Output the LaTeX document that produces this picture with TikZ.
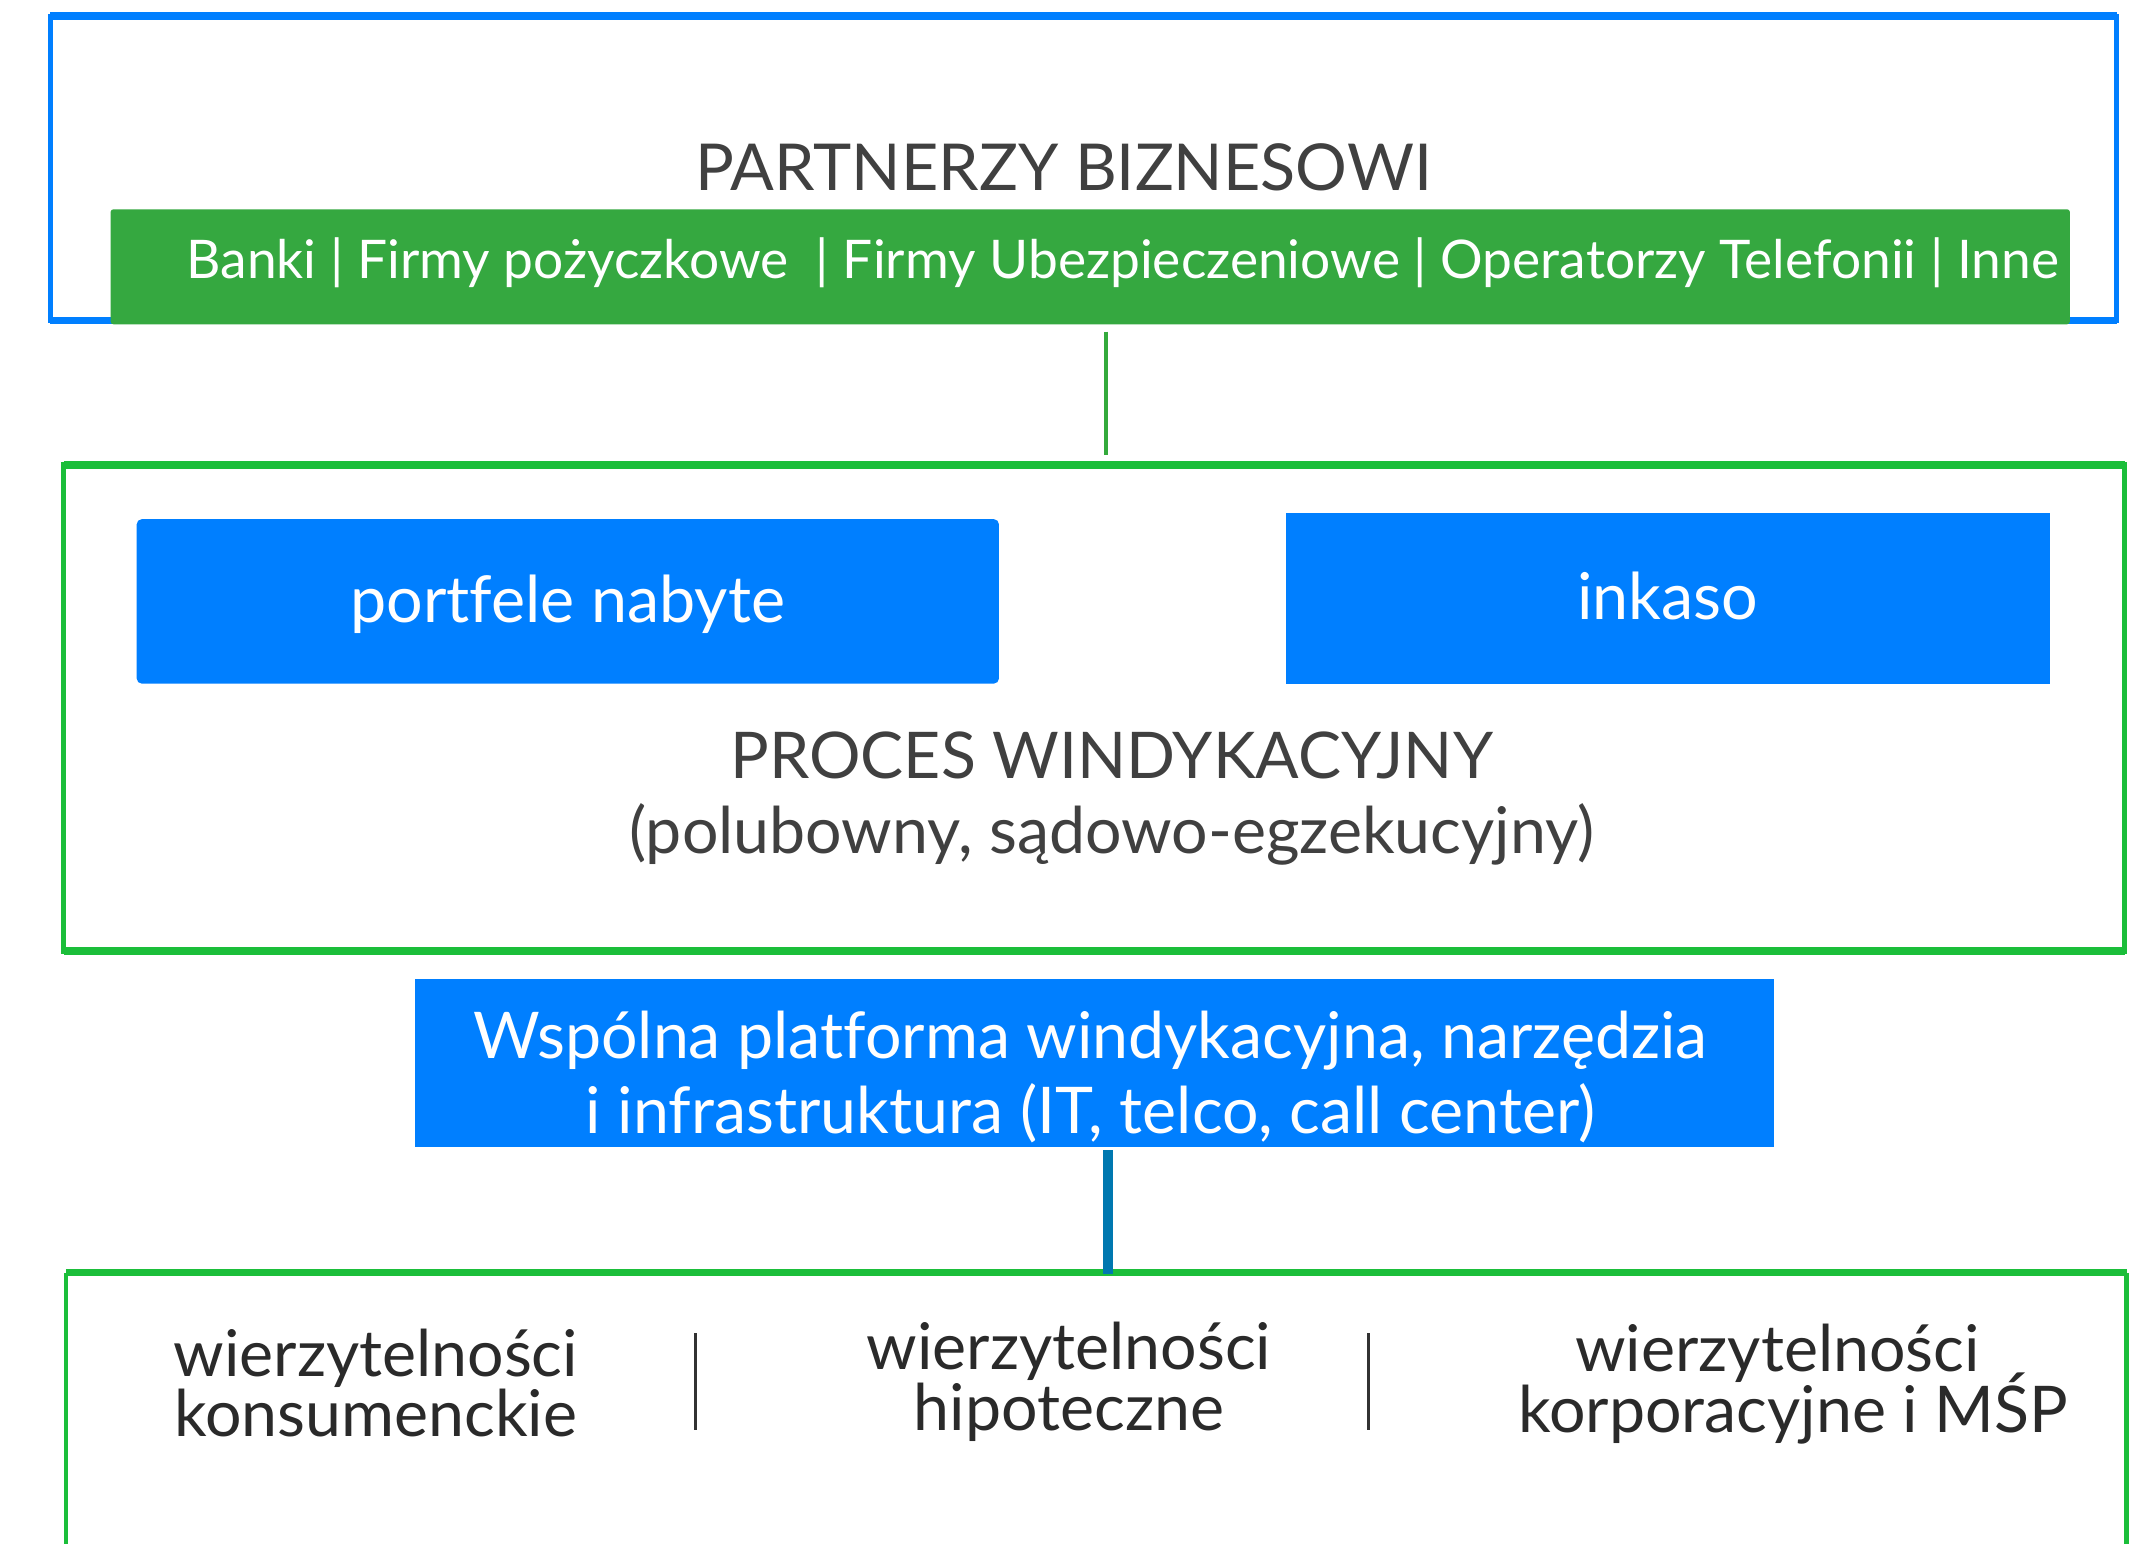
\documentclass[tikz,border=0pt]{standalone}
\usepackage{fontspec}
\setmainfont{Lato}[Ligatures=NoCommon]
\usetikzlibrary{calc}
\definecolor{fillblue}{RGB}{0,127,255}
\definecolor{framegreen}{RGB}{27,190,58}
\definecolor{bargreen}{RGB}{53,168,64}
\definecolor{linkgreen}{RGB}{52,170,60}
\definecolor{linkblue}{RGB}{0,120,176}
\definecolor{txtgray}{RGB}{64,64,64}
\definecolor{txtdark}{RGB}{42,42,42}
\definecolor{sepgray}{RGB}{50,50,50}
\newcommand{\fsz}[2]{\fontsize{#1}{#2}\selectfont}
\newcommand{\mytwolines}[2]{\begin{tabular}[t]{@{}c@{}}\smash{#1}\\\smash{#2}\end{tabular}}
\tikzset{
  framebox/.style={rectangle, inner sep=0pt, outer sep=0pt},
  bluebox/.style={rectangle, fill=fillblue, inner sep=0pt, outer sep=0pt, text=white},
  titletext/.style={text=txtgray, inner sep=0pt, anchor=base},
  cattext/.style={text=txtdark, inner sep=0pt, anchor=base, font=\fsz{47.4}{44.5}},
  seprule/.style={draw=sepgray, line width=2.2pt},
}
\begin{document}
\begin{tikzpicture}[x=1pt,y=-1pt]
\useasboundingbox (0,0) rectangle (1568,1136);
\fill[white] (0,0) rectangle (1568,1136);

% ---- Partners frame
\node[framebox, draw=fillblue, line width=3.7pt, minimum width=1520.5pt, minimum height=223.8pt] (partners) at (797.25,123.8) {};
\draw[fillblue, line width=5.6pt] (partners.north west) -- (partners.north east);
\draw[fillblue, line width=5.6pt] (partners.south west) -- (partners.south east);
\node[titletext, font=\fsz{47.6}{58}] (ptitle) at (782.5,139.8) {PARTNERZY BIZNESOWI};

\node[rectangle, fill=bargreen, rounded corners=2pt, minimum width=1441.6pt, minimum height=84.6pt, inner sep=0pt, outer sep=0pt] (bar) at (802.2,196.3) {};
\node[anchor=base west, inner sep=0pt, text=white, font=\fsz{39.2}{47}] (bartext) at (137,204.8) {Banki | Firmy pożyczkowe\ \ | Firmy Ubezpieczeniowe | Operatorzy Telefonii | Inne};

% ---- Process frame
\node[framebox, draw=framegreen, line width=3.7pt, minimum width=1516.2pt, minimum height=358pt] (proc) at (805.1,521) {};
\draw[framegreen, line width=6pt] (proc.north west) -- (proc.north east);
\draw[framegreen, line width=6pt] (proc.south west) -- (proc.south east);

\draw[linkgreen, line width=3pt] ($(bar.south)+(11.8,5.4)$) -- ($(proc.north)+(8.9,-7)$);

\node[bluebox, rounded corners=3.7pt, minimum width=634.4pt, minimum height=121pt, text height=30.4pt, text depth=0pt, font=\fsz{47.5}{57}] (portf) at (417.8,442.5) {portfele nabyte};
\node[bluebox, minimum width=562.4pt, minimum height=125.7pt, text height=31.7pt, text depth=0pt, font=\fsz{47.5}{57}] (inkaso) at (1227.2,440.15) {inkaso};

\node[titletext, font=\fsz{47.4}{55.5}] (proctext) at (818,572.5) {\mytwolines{PROCES WINDYKACYJNY}{(polubowny, sądowo-egzekucyjny)}};

% ---- Platform
\node[bluebox, minimum width=1000pt, minimum height=124pt] (plat) at (805,782) {};
\node[inner sep=0pt, anchor=base, text=white, font=\fsz{47.4}{55.7}] (plattext) at (802.5,778.5) {\mytwolines{Wspólna platforma windykacyjna, narzędzia}{i infrastruktura (IT, telco, call center)}};

% ---- Categories frame (open at the bottom)
\node[framebox, minimum width=1516.2pt, minimum height=200pt] (cat) at (806.6,1036.5) {};
\draw[framegreen, line width=3.5pt] (cat.north west) -- (cat.south west);
\draw[framegreen, line width=3.5pt] (cat.north east) -- (cat.south east);
\draw[framegreen, line width=5pt] (cat.north west) -- (cat.north east);

\draw[linkblue, line width=7.3pt] ($(plat.south)+(10.25,2.2)$) -- ($(cat.north)+(8.65,0.9)$);

\node[cattext] (cons) at (276.5,1012.5) {\mytwolines{wierzytelności}{konsumenckie}};
\node[cattext] (hipo) at (786.5,1008) {\mytwolines{wierzytelności}{hipoteczne}};
\node[cattext] (corp) at (1319.5,1009.3) {\mytwolines{wierzytelności\hspace*{23.4pt}}{korporacyjne i MŚP}};

\coordinate (sepAtop) at (512,981);
\coordinate (sepAbot) at (512,1052);
\coordinate (sepBtop) at (1007.2,981);
\coordinate (sepBbot) at (1007.2,1052);
\draw[seprule] (sepAtop) -- (sepAbot);
\draw[seprule] (sepBtop) -- (sepBbot);
\end{tikzpicture}
\end{document}
